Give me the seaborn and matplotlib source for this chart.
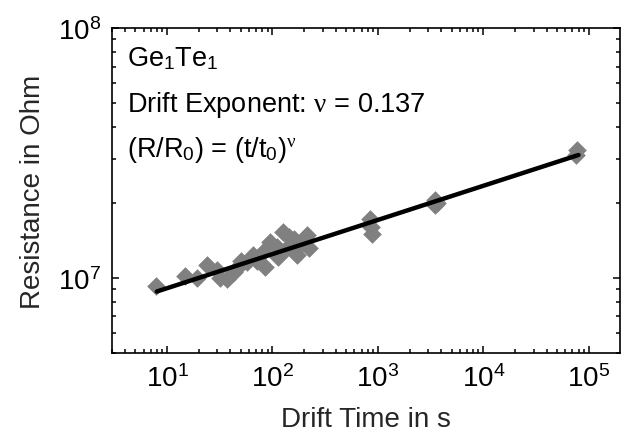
import numpy as np
import pandas as pd
import matplotlib
matplotlib.use("Agg")
import matplotlib.pyplot as plt
import seaborn as sns
from matplotlib.ticker import LogLocator, NullFormatter

# ---- data ----
drift_time_s = [7.9, 14.9, 19.2, 23.9, 30, 32, 37, 43, 46, 50, 57, 66, 71, 82, 85,
                95, 110, 114, 127, 137, 145, 159, 171, 185, 197, 212, 220,
                850, 870, 880, 3450, 3500, 3600, 7.6e4, 7.8e4]
resistance_ohm = [9.3e6, 1.02e7, 1.0e7, 1.12e7, 1.07e7, 1.0e7, 9.9e6, 1.05e7, 1.09e7, 1.17e7,
                  1.16e7, 1.23e7, 1.17e7, 1.27e7, 1.10e7,
                  1.39e7, 1.33e7, 1.21e7, 1.52e7, 1.31e7, 1.45e7, 1.43e7, 1.23e7, 1.36e7,
                  1.39e7, 1.48e7, 1.31e7,
                  1.72e7, 1.6e7, 1.5e7, 1.95e7, 2.05e7, 2.0e7, 3.1e7, 3.25e7]
fit_time_s = [8, 8e4]
fit_resistance_ohm = [8.8e6, 3.1e7]

xlabel = "Drift Time in s"
ylabel = "Resistance in Ohm"
annot_lines = [r"Ge$_1$Te$_1$",
               r"Drift Exponent: $\nu$ = 0.137",
               r"(R/R$_0$) = (t/t$_0$)$^\nu$"]

df = pd.DataFrame({"t": drift_time_s, "R": resistance_ohm})
fit = pd.DataFrame({"t": fit_time_s, "R": fit_resistance_ohm})

sns.set_theme(style="ticks")
plt.rcParams["font.family"] = ["Liberation Sans", "DejaVu Sans"]
plt.rcParams["mathtext.fontset"] = "custom"
plt.rcParams["mathtext.rm"] = "Liberation Sans"
plt.rcParams["mathtext.it"] = "Liberation Serif"
plt.rcParams["mathtext.bf"] = "Liberation Sans:bold"

fig = plt.figure(figsize=(6.25, 4.39), dpi=100)
ax = fig.add_axes([0.179, 0.194, 0.813, 0.740])

sns.scatterplot(data=df, x="t", y="R", marker="D", color="#808080", s=90,
                linewidth=0, ax=ax, zorder=2)
sns.lineplot(data=fit, x="t", y="R", color="black", linewidth=3.2, ax=ax, zorder=3)

ax.set_xscale("log")
ax.set_yscale("log")
ax.set_xlim(3.0, 1.98e5)
ax.set_ylim(5e6, 1e8)

ax.xaxis.set_minor_locator(LogLocator(base=10, subs=np.arange(2, 10), numticks=20))
ax.yaxis.set_minor_locator(LogLocator(base=10, subs=np.arange(2, 10), numticks=20))
ax.xaxis.set_minor_formatter(NullFormatter())
ax.yaxis.set_minor_formatter(NullFormatter())

ax.tick_params(which="both", direction="in", top=True, right=True, colors="black",
               labelsize=20, width=1.1)
ax.tick_params(which="major", length=5, pad=8)
ax.tick_params(which="minor", length=3)
for sp in ax.spines.values():
    sp.set_linewidth(1.2)
    sp.set_color("black")

ax.set_xlabel(xlabel, fontsize=20, labelpad=10)
ax.set_ylabel(ylabel, fontsize=20, labelpad=8)

for i, line in enumerate(annot_lines):
    ax.text(0.03, 0.885 - i * 0.14, line, transform=ax.transAxes, fontsize=19.5,
            ha="left", va="baseline", color="black")

fig.savefig("out.png", dpi=100)
